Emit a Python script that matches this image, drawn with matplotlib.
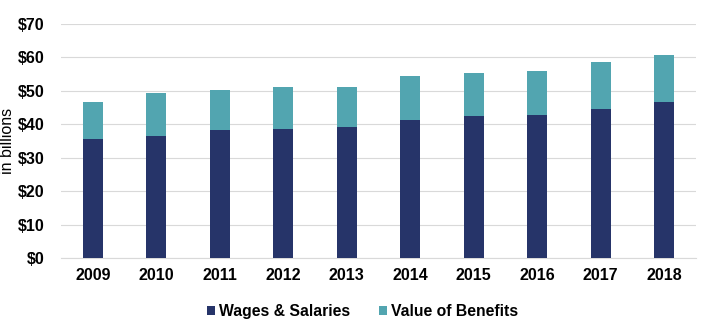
import matplotlib.pyplot as plt
from matplotlib.ticker import FuncFormatter

years = ['2009', '2010', '2011', '2012', '2013', '2014', '2015', '2016', '2017', '2018']
wages = [35.5, 36.5, 38.2, 38.5, 39.2, 41.3, 42.6, 42.9, 44.7, 46.6]
benefits = [11.1, 12.8, 12.1, 12.7, 12.0, 13.0, 12.7, 13.0, 13.9, 14.1]

plt.rcParams['font.family'] = ['Liberation Sans', 'DejaVu Sans']

fig = plt.figure(figsize=(7.07, 3.29), dpi=100)
ax = fig.add_axes([0.0863, 0.2158, 0.8982, 0.7112])

x = range(len(years))
ax.bar(x, wages, width=0.315, color='#263469', label='Wages & Salaries', zorder=3)
ax.bar(x, benefits, width=0.315, bottom=wages, color='#52A5B0', label='Value of Benefits', zorder=3)

ax.set_xlim(-0.5, len(years) - 0.5)
ax.set_ylim(0, 70)
ax.set_yticks(range(0, 71, 10))
ax.yaxis.set_major_formatter(FuncFormatter(lambda v, p: f'${v:.0f}'))
ax.set_xticks(list(x))
ax.set_xticklabels(years)

ax.grid(axis='y', color='#d9d9d9', linewidth=0.8, zorder=0)
for s in ['top', 'right', 'left']:
    ax.spines[s].set_visible(False)
ax.spines['bottom'].set_color('#d9d9d9')
ax.tick_params(length=0, labelsize=11.5)
for lbl in ax.get_xticklabels() + ax.get_yticklabels():
    lbl.set_fontweight('bold')
ax.tick_params(axis='y', pad=12)
ax.tick_params(axis='x', pad=7)

ax.set_ylabel('in billions', fontsize=11.5, labelpad=2)

ax.legend(loc='upper center', bbox_to_anchor=(0.475, -0.135), ncol=2, frameon=False,
          prop={'weight': 'bold', 'size': 11.3}, handlelength=0.5, handleheight=0.5,
          handletextpad=0.3, columnspacing=1.8)

fig.savefig('out.png', dpi=100)
